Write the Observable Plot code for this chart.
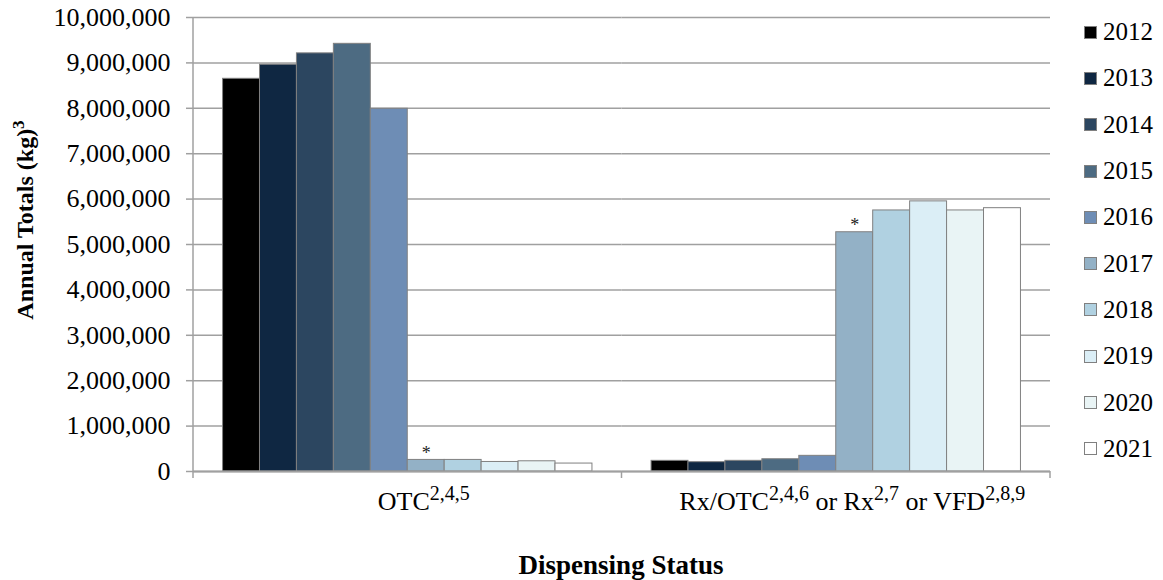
<!DOCTYPE html>
<html>
<head>
<meta charset="utf-8">
<script src="https://cdn.jsdelivr.net/npm/d3@7"></script>
<script src="https://cdn.jsdelivr.net/npm/@observablehq/plot@0.6"></script>
<style>
  body { margin: 0; background: #fff; }
  #wrap { position: relative; width: 1163px; height: 580px; font-family: "Liberation Serif", "Times New Roman", serif; color: #000; }
  #wrap svg { position: absolute; left: 0; top: 0; }
  .legend { position: absolute; left: 1084px; top: 9px; }
  .row { height: 46.3px; display: flex; align-items: center; font-size: 25px; }
  .sw { width: 11px; height: 11px; border: 1px solid #808080; margin-right: 6px; }
  .ytitle { position: absolute; left: -125px; top: 205px; width: 300px; height: 30px; line-height: 30px; text-align: center; font-weight: bold; font-size: 24px; transform: rotate(-90deg); white-space: nowrap; }
  .xtitle { position: absolute; left: 421px; top: 550px; width: 400px; height: 30px; line-height: 30px; text-align: center; font-weight: bold; font-size: 27px; }
  .sup { font-size: 17px; position: relative; top: -9px; }
</style>
</head>
<body>
<div id="wrap"></div>
<script>
// ---- data ----
const years = ["2012", "2013", "2014", "2015", "2016", "2017", "2018", "2019", "2020", "2021"];
const groups = ["OTC", "Rx/OTC or Rx or VFD"];
const otcValues = [8650000, 8960000, 9210000, 9420000, 7990000, 255000, 255000, 210000, 225000, 175000];
const rxValues = [235000, 205000, 235000, 270000, 345000, 5270000, 5750000, 5950000, 5750000, 5800000];
const colors = ["#000000", "#0f2742", "#2c4660", "#4d6b82", "#6e8db5", "#93b1c6", "#b0d1e1", "#dbeef6", "#e9f4f5", "#ffffff"];
const asteriskYears = ["2017"];
const groupLabels = [
  [["OTC", false], ["2,4,5", true]],
  [["Rx/OTC", false], ["2,4,6", true], [" or Rx", false], ["2,7", true], [" or VFD", false], ["2,8,9", true]]
];
const yTicks = d3.range(0, 10000001, 1000000);
const yTitle = "Annual Totals (kg)";
const yTitleSup = "3";
const xTitle = "Dispensing Status";

// ---- table ----
const data = [];
years.forEach((yr, i) => {
  data.push({group: groups[0], year: yr, value: otcValues[i]});
  data.push({group: groups[1], year: yr, value: rxValues[i]});
});

const gray = "#a0a0a0";

const plot = Plot.plot({
  width: 1163,
  height: 580,
  marginLeft: 193,
  marginRight: 113,
  marginTop: 17,
  marginBottom: 109,
  style: {fontFamily: "'Liberation Serif', 'Times New Roman', serif", fontSize: "26px", color: "#000", background: "#fff"},
  fx: {domain: groups, padding: 0, round: false},
  x: {domain: years, paddingInner: 0, paddingOuter: 0.8, round: false, axis: null},
  y: {domain: [0, 10000000]},
  color: {domain: years, range: colors},
  marks: [
    Plot.gridY(yTicks, {stroke: gray, strokeOpacity: 1, strokeWidth: 1.5}),
    Plot.barY(data, {fx: "group", x: "year", y: "value", fill: "year", stroke: "#808080", strokeWidth: 1}),
    Plot.ruleY([0], {stroke: gray, strokeWidth: 2}),
    Plot.text(data.filter(d => asteriskYears.includes(d.year)), {
      fx: "group", x: "year", y: "value", text: () => "*", lineAnchor: "bottom", dy: -1, fontSize: 18, fill: "#222"
    }),
    Plot.axisY({ticks: yTicks, tickFormat: d3.format(","), tickSize: 7, tickPadding: 16, stroke: gray, strokeWidth: 1.5, fill: "#000", label: null}),
    Plot.axisFx({anchor: "bottom", tickSize: 0, tickPadding: 20, label: null, dx: 16, fill: "#000", fontSize: 26})
  ]
});

const wrap = document.getElementById("wrap");
wrap.appendChild(plot);

// ---- axis decorations using Plot's scales ----
const svg = d3.select(plot);
const fxs = plot.scale("fx");
const ys = plot.scale("y");
const y0 = ys.apply(0);
const bounds = groups.map(g => fxs.apply(g)).concat([fxs.apply(groups[groups.length - 1]) + fxs.bandwidth]);
const deco = svg.append("g").attr("stroke", gray).attr("stroke-width", 1.5);
deco.append("line").attr("x1", bounds[0]).attr("x2", bounds[0]).attr("y1", ys.apply(10000000)).attr("y2", y0);
deco.selectAll("line.bt").data(bounds).join("line").attr("class", "bt")
  .attr("x1", d => d).attr("x2", d => d).attr("y1", y0).attr("y2", y0 + 7);

// ---- superscripts in category labels ----
svg.selectAll('g[aria-label="fx-axis tick label"] text').each(function() {
  const key = this.textContent.trim();
  const gi = groups.indexOf(key);
  if (gi < 0) return;
  const t = d3.select(this);
  t.text(null).attr("xml:space", "preserve").style("white-space", "pre");
  let raised = false;
  groupLabels[gi].forEach(([s, sup]) => {
    const ts = t.append("tspan").text(s);
    if (sup && !raised) { ts.attr("font-size", 20).attr("dy", -10); raised = true; }
    else if (sup) { ts.attr("font-size", 20); }
    else if (!sup && raised) { ts.attr("dy", 10); raised = false; }
  });
});

// ---- titles & legend ----
const yt = document.createElement("div");
yt.className = "ytitle";
yt.innerHTML = `${yTitle}<span class="sup">${yTitleSup}</span>`;
wrap.appendChild(yt);

const xt = document.createElement("div");
xt.className = "xtitle";
xt.textContent = xTitle;
wrap.appendChild(xt);

const leg = document.createElement("div");
leg.className = "legend";
years.forEach((yr, i) => {
  const r = document.createElement("div");
  r.className = "row";
  const sw = document.createElement("div");
  sw.className = "sw";
  sw.style.background = colors[i];
  r.appendChild(sw);
  r.appendChild(document.createTextNode(yr));
  leg.appendChild(r);
});
wrap.appendChild(leg);
</script>
</body>
</html>
